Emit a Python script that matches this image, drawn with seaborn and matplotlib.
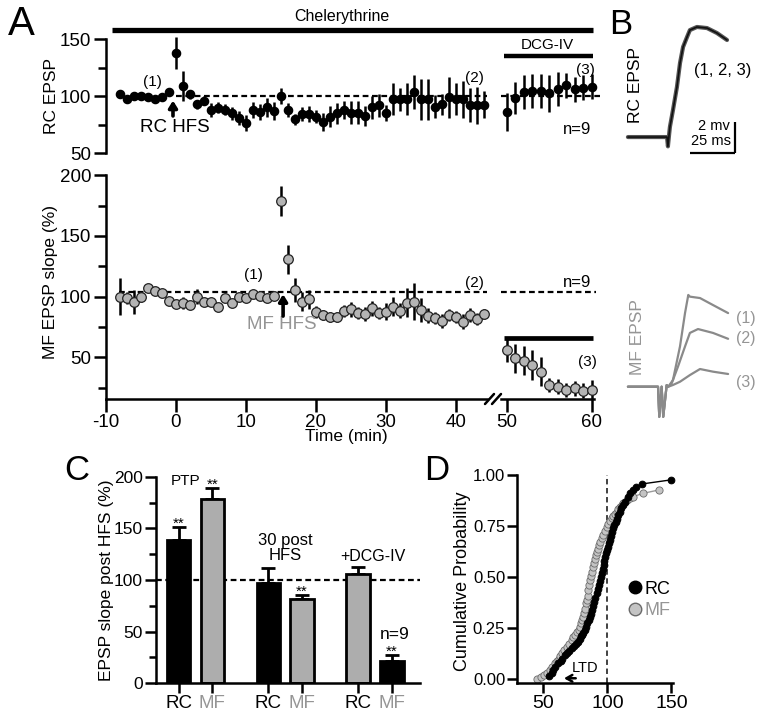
import numpy as np
import pandas as pd
import seaborn as sns
import matplotlib.pyplot as plt
from matplotlib.lines import Line2D

# ---------------- data ----------------
time_pre = list(range(-8, 45))
time_post = list(range(50, 61))

rc_pre = [102, 97, 100, 100, 99, 97, 99, 103.5, 137.6, 109, 101.5, 92.6, 96, 87.6, 89.7, 88,
          84.7, 81, 76, 87.6, 86, 90, 86.8, 100, 87.6, 79.4, 84, 84, 82, 77.4, 82, 84.7, 87.6,
          85.3, 85.3, 82.6, 90, 92, 85.3, 97, 97, 97.6, 103.5, 97, 97, 90.6, 92.6, 99, 97.6, 97,
          91.8, 91.8, 92.4]
rc_pre_err = [2, 2, 2, 2, 2, 2, 2, 2, 14, 13, 4, 4, 4, 6, 5, 5, 6, 6, 7, 7, 7, 8, 8, 7, 6, 5,
              6, 7, 6, 8, 9, 9, 8, 10, 10, 9, 10, 10, 7, 14, 10, 14, 15, 18, 18, 10, 9, 18, 14,
              16, 15, 16, 12]
rc_post = [86, 98.5, 103.5, 104.4, 104.4, 102.4, 106, 109.4, 106, 107.4, 108.2]
rc_post_err = [17, 14, 15, 15, 15, 16, 15, 11, 11, 11, 11]

mf_pre = [100, 98.6, 95.9, 99.5, 106.9, 105, 103.3, 96.7, 94, 95, 93, 100, 95.9, 95.9, 91.8,
          99.2, 95, 100, 99.2, 102, 100.8, 98.6, 100.5, 178.8, 130.8, 105.5, 95.9, 97.8, 87.6,
          84.9, 83, 83.5, 88.5, 89.6, 86.3, 85.7, 90.4, 86.3, 87.6, 91.8, 88.5, 95, 95.9, 89,
          84.3, 82.1, 79.9, 84.9, 83.5, 79.4, 84.9, 81.6, 85.7]
mf_pre_err = [15, 5, 10, 4, 3, 3, 3, 3, 3, 5, 3, 6, 3, 3, 3, 3, 3, 3, 3, 3, 3, 3, 3, 12, 12,
              10, 8, 8, 5, 4, 4, 4, 5, 6, 5, 6, 6, 5, 7, 8, 6, 12, 15, 10, 6, 5, 6, 5, 5, 6,
              6, 5, 4]
mf_post = [56, 49.2, 47.3, 43.7, 38.2, 27.2, 25.8, 23.1, 24.5, 22.5, 23.1]
mf_post_err = [10, 12, 12, 12, 12, 6, 6, 6, 6, 6, 8]

# panel B traces (ms, mV)
rc_trace_t = [0, 21.7, 22.2, 22.8, 23.3, 25.0, 27.2, 28.9, 30.6, 32.8, 34.4, 38.3, 43.9, 49.4, 55.0]
rc_trace_v = [0, 0, -0.6, 0.1, 0.65, 1.74, 3.23, 4.77, 5.81, 6.45, 6.9, 7.1, 7.03, 6.71, 6.26]
mf1_t = [0, 16.7, 17.4, 18.7, 19.6, 21.5, 22.4, 25.0, 28.9, 31.7, 33.5, 34.4, 40.0, 47.2, 55.6]
mf1_v = [0, 0, -1.94, 0, -1.94, 0.1, 0, 0.43, 2.6, 4.76, 5.92, 5.81, 5.72, 5.27, 4.75]
mf2_t = [0, 16.7, 17.4, 18.7, 19.6, 21.5, 22.4, 24.3, 27.8, 31.7, 34.4, 38.9, 47.2, 55.6]
mf2_v = [0, 0, -1.94, 0, -1.94, 0.1, 0, 0.22, 1.3, 2.6, 3.47, 3.72, 3.47, 3.09]
mf3_t = [0, 16.7, 17.4, 18.7, 19.6, 21.5, 22.4, 25.0, 28.9, 34.4, 40.0, 47.2, 55.6]
mf3_v = [0, 0, -1.94, 0, -1.94, 0.1, 0, 0.11, 0.32, 0.75, 1.14, 0.97, 0.82]

# panel C
bar_groups = ['PTP', '30 post HFS', '+DCG-IV']
bar_pathways = ['RC', 'MF']
bar_values = [138.7, 178.0, 96.8, 81.6, 105.8, 21.6]
bar_errors = [12.9, 11.4, 14.8, 3.9, 6.8, 5.8]

# panel D
rc_cdf_x = [54.7, 56.5, 57.8, 59.5, 61.7, 63.5, 65.0, 67.0, 68.5, 70.0, 72.2, 74.0, 75.5, 77.3,
            78.5, 79.5, 80.5, 81.3, 82.3, 83.2, 84.4, 85.3, 86.2, 87.0, 87.8, 88.6, 89.5, 90.5,
            91.7, 92.5, 93.3, 94.1, 94.9, 95.6, 96.3, 97.0, 97.6, 98.3, 99.0, 99.8, 100.6,
            101.3, 102.1, 103.0, 103.8, 104.7, 105.5, 106.5, 107.5, 108.6, 109.8, 111.0, 112.4,
            113.8, 115.8, 118.0, 120.3, 122.5, 126.9, 149.5]
rc_cdf_y = [0.016, 0.030, 0.045, 0.060, 0.078, 0.090, 0.100, 0.119, 0.130, 0.140, 0.152, 0.165,
            0.175, 0.184, 0.195, 0.210, 0.218, 0.225, 0.240, 0.257, 0.274, 0.290, 0.305, 0.320,
            0.339, 0.360, 0.380, 0.400, 0.421, 0.440, 0.460, 0.480, 0.500, 0.519, 0.540, 0.560,
            0.580, 0.600, 0.617, 0.635, 0.650, 0.667, 0.682, 0.700, 0.720, 0.739, 0.755, 0.770,
            0.787, 0.804, 0.820, 0.837, 0.853, 0.869, 0.890, 0.910, 0.927, 0.940, 0.956, 0.976]
mf_cdf_x = [44.8, 48.0, 50.8, 53.0, 55.2, 57.0, 59.1, 60.5, 62.0, 63.2, 64.4, 66.3, 68.3, 70.3,
            72.2, 73.5, 74.8, 76.0, 77.5, 78.7, 79.6, 80.5, 81.3, 82.0, 82.7, 83.4, 84.0, 84.6,
            85.2, 85.8, 86.5, 87.2, 87.9, 88.6, 89.3, 90.2, 91.0, 91.7, 92.6, 93.4, 94.3, 95.5,
            96.9, 98.2, 99.5, 100.8, 102.1, 103.4, 104.7, 106.0, 107.3, 108.6, 110.0, 111.2,
            112.5, 113.8, 115.2, 117.5, 120.3, 127.7, 140.4]
mf_cdf_y = [0.000, 0.010, 0.020, 0.032, 0.045, 0.060, 0.078, 0.090, 0.100, 0.115, 0.127, 0.143,
            0.160, 0.175, 0.190, 0.205, 0.217, 0.230, 0.243, 0.257, 0.275, 0.290, 0.306, 0.325,
            0.345, 0.372, 0.390, 0.410, 0.437, 0.460, 0.486, 0.505, 0.525, 0.551, 0.570, 0.590,
            0.607, 0.625, 0.640, 0.657, 0.673, 0.690, 0.706, 0.726, 0.747, 0.760, 0.775, 0.788,
            0.800, 0.810, 0.820, 0.832, 0.843, 0.853, 0.862, 0.870, 0.878, 0.886, 0.894, 0.910,
            0.927]

# ---------------- style ----------------
sns.set_theme(style='ticks')
plt.rcParams['font.family'] = ['Liberation Sans', 'DejaVu Sans']
plt.rcParams.update({'axes.edgecolor': 'black', 'xtick.color': 'black', 'ytick.color': 'black',
                     'text.color': 'black', 'axes.labelcolor': 'black', 'axes.linewidth': 1.8})
GRAY_TXT = '#959595'
MF_FACE = '#b4b4b4'

W, H = 760, 720
fig = plt.figure(figsize=(7.6, 7.2), dpi=100)


def pax(l, t, r, b):
    ax = fig.add_axes([l / W, 1 - b / H, (r - l) / W, (b - t) / H])
    ax.patch.set_visible(False)
    return ax


def ftext(x, y, s, **kw):
    kw.setdefault('ha', 'center')
    kw.setdefault('va', 'center')
    fig.text(x / W, 1 - y / H, s, **kw)


def ticks(ax, size=13.5, length=9):
    ax.tick_params(which='major', direction='out', length=length, width=1.8, labelsize=size, pad=1.5)
    ax.tick_params(which='minor', direction='out', length=length * 0.65, width=1.8)


def series(ax, t, v, e, face, edge, s):
    ax.errorbar(t, v, yerr=e, fmt='none', ecolor='black', elinewidth=1.8, capsize=0, zorder=2)
    sns.scatterplot(x=t, y=v, ax=ax, color=face, edgecolor=edge, s=s, linewidth=0.9,
                    zorder=3, legend=False, clip_on=False)


ARROW = dict(arrowstyle='-|>,head_width=0.25,head_length=0.4', lw=2.6, color='black',
             shrinkA=0, shrinkB=0, mutation_scale=10)

# ---------------- panel A ----------------
XL = (-10, 44.43)
XR = (49.3, 60.24)
a1 = pax(106, 16.2, 487, 155.3)
a2 = pax(501, 16.2, 594, 155.3)
b1 = pax(106, 175.3, 487, 399)
b2 = pax(501, 175.3, 594, 399)

for ax in (a1, a2):
    ax.set_ylim(48, 170)
for ax in (b1, b2):
    ax.set_ylim(15.7, 200)
for ax in (a1, b1):
    ax.set_xlim(*XL)
for ax in (a2, b2):
    ax.set_xlim(*XR)

series(a1, time_pre, rc_pre, rc_pre_err, 'black', 'black', 36)
series(a2, time_post, rc_post, rc_post_err, 'black', 'black', 36)
series(b1, time_pre, mf_pre, mf_pre_err, MF_FACE, '#222222', 48)
series(b2, time_post, mf_post, mf_post_err, MF_FACE, '#222222', 48)

for ax in (a1, a2, b1, b2):
    for sp in ('top', 'right'):
        ax.spines[sp].set_visible(False)
    ticks(ax)

a1.spines['bottom'].set_visible(False)
a1.spines['left'].set_bounds(50, 150)
a1.set_xticks([])
a1.set_yticks([50, 100, 150])
a1.set_yticks([75, 125], minor=True)
for sp in ('left', 'bottom'):
    a2.spines[sp].set_visible(False)
a2.set_xticks([])
a2.set_yticks([])

b1.set_yticks([50, 100, 150, 200])
b1.set_yticks([25, 75, 125, 175], minor=True)
b1.set_xticks([-10, 0, 10, 20, 30, 40])
b1.set_xticklabels(['-10', '0', '10', '20', '30', '40'])
b2.spines['left'].set_visible(False)
b2.set_yticks([])
b2.set_xticks([50, 60])

dash = dict(ls=(0, (2.6, 1.6)), color='black', lw=1.6, zorder=1, clip_on=False)
a1.plot([0, XL[1]], [100, 100], **dash)
a2.plot([XR[0], 60.95], [100, 100], **dash)
b1.plot([-8.1, XL[1]], [104, 104], **dash)
b2.plot([XR[0], 60.5], [104, 104], **dash)

a1.plot([-9.14, 59.57], [157.9, 157.9], color='black', lw=3.8, solid_capstyle='butt', clip_on=False)
ftext(342, 16, 'Chelerythrine', fontsize=11.5)
a2.plot([49.65, 60.12], [135.1, 135.1], color='black', lw=3.2, solid_capstyle='butt', clip_on=False)
a2.text(54.8, 144.7, 'DCG-IV', ha='center', va='center', fontsize=11)
b2.plot([49.65, 60.12], [66.2, 66.2], color='black', lw=3.4, solid_capstyle='butt', clip_on=False)

a1.text(-3.4, 112.3, '(1)', ha='center', va='center', fontsize=11)
a1.text(42.7, 115.8, '(2)', ha='center', va='center', fontsize=11)
a2.text(59.2, 122.8, '(3)', ha='center', va='center', fontsize=11)
a2.text(58.2, 70.2, 'n=9', ha='center', va='center', fontsize=12)
a1.text(-0.14, 72, 'RC HFS', ha='center', va='center', fontsize=13.5)
a1.annotate('', xy=(-0.43, 96), xytext=(-0.43, 82.5), arrowprops=ARROW)
b1.text(11, 117.9, '(1)', ha='center', va='center', fontsize=11)
b1.text(42.7, 111.3, '(2)', ha='center', va='center', fontsize=11)
b2.text(58.2, 111.3, 'n=9', ha='center', va='center', fontsize=12)
b2.text(59.5, 46.2, '(3)', ha='center', va='center', fontsize=11)
b1.text(15.1, 76.7, 'MF HFS', ha='center', va='center', fontsize=13.5, color=GRAY_TXT)
b1.annotate('', xy=(15.3, 102), xytext=(15.3, 84), arrowprops=ARROW)

ftext(51, 96, 'RC EPSP', rotation=90, fontsize=12.5)
ftext(51, 282, 'MF EPSP slope (%)', rotation=90, fontsize=12.5)
ftext(346, 437, 'Time (min)', fontsize=12.5)

for x0 in (485, 492):
    fig.add_artist(Line2D([x0 / W, (x0 + 9) / W], [1 - 404 / H, 1 - 394 / H], color='black', lw=1.8))

# ---------------- panel B ----------------
tb = pax(620, 0, 760, 160)
tb.set_xlim(-4.4, 73.3)
tb.set_ylim(-1.48, 8.84)
tb.axis('off')
for lw, c in ((3.0, '#555555'), (1.2, '#111111')):
    sns.lineplot(x=rc_trace_t, y=rc_trace_v, ax=tb, color=c, lw=lw, sort=False, estimator=None)
tb.plot([34.4, 59.4], [-1.03, -1.03], color='black', lw=1.6, solid_capstyle='butt')
tb.plot([59.4, 59.4], [-1.03, 0.97], color='black', lw=1.6, solid_capstyle='butt')
ftext(730, 126.5, '2 mv', ha='right', fontsize=10.5)
ftext(731, 141, '25 ms', ha='right', fontsize=10.5)
ftext(723, 70, '(1, 2, 3)', fontsize=12)
ftext(635, 85, 'RC EPSP', rotation=90, fontsize=12.5)

mb = pax(620, 270, 760, 440)
mb.set_xlim(-4.4, 73.3)
mb.set_ylim(-3.44, 7.53)
mb.axis('off')
for tt, vv in ((mf1_t, mf1_v), (mf2_t, mf2_v), (mf3_t, mf3_v)):
    sns.lineplot(x=tt, y=vv, ax=mb, color='#8a8a8a', lw=1.6, sort=False, estimator=None)
ftext(746, 318, '(1)', fontsize=11.5, color=GRAY_TXT)
ftext(746, 338, '(2)', fontsize=11.5, color=GRAY_TXT)
ftext(746, 382, '(3)', fontsize=11.5, color=GRAY_TXT)
ftext(637, 337, 'MF EPSP', rotation=90, fontsize=12.5, color=GRAY_TXT)

# ---------------- panel C ----------------
cx = pax(156, 476.7, 420, 683.3)
df_c = pd.DataFrame({'group': np.repeat(bar_groups, 2), 'pathway': bar_pathways * 3,
                     'value': bar_values})
sns.barplot(data=df_c, x='group', y='value', hue='pathway', hue_order=bar_pathways,
            order=bar_groups, palette={'RC': 'black', 'MF': '#adadad'}, width=0.75, gap=0.3,
            edgecolor='black', linewidth=2, errorbar=None, legend=False, ax=cx, zorder=2)
bars = sorted(cx.patches, key=lambda p: p.get_x())
fills = ['black', '#adadad', 'black', '#adadad', '#adadad', 'black']
for p, f in zip(bars, fills):
    p.set_facecolor(f)
centers = [p.get_x() + p.get_width() / 2 for p in bars]
cx.errorbar(centers, bar_values, yerr=[np.zeros(len(bar_values)), bar_errors], fmt='none',
            ecolor='black', elinewidth=2, capsize=5, capthick=2, zorder=1.5)
cx.set_xlim(-0.44, 2.5)
cx.set_ylim(0, 200)
cx.axhline(100, ls=(0, (2.6, 1.6)), color='black', lw=1.6, zorder=0.5)
for sp in ('top', 'right'):
    cx.spines[sp].set_visible(False)
cx.set_xlabel('')
cx.set_ylabel('')
cx.set_yticks([0, 50, 100, 150, 200])
cx.set_yticks([25, 75, 125, 175], minor=True)
cx.set_xticks(centers)
cx.set_xticklabels(['RC', 'MF'] * 3)
ticks(cx, size=12.5, length=8)
cx.tick_params(axis='x', labelsize=13.5, length=7)
for lab, c in zip(cx.get_xticklabels(), ['black', GRAY_TXT] * 3):
    lab.set_color(c)
cx.text(-0.115, 196, 'PTP', ha='center', va='center', fontsize=11)
for i in (0, 1, 3, 5):
    cx.text(centers[i], bar_values[i] + bar_errors[i] - 1, '**', ha='center', va='baseline',
            fontsize=11)
cx.text(1.0, 131, '30 post\nHFS', ha='center', va='center', fontsize=12, linespacing=0.95)
cx.text(1.98, 123.2, '+DCG-IV', ha='center', va='center', fontsize=11.5)
cx.text(2.22, 46.8, 'n=9', ha='center', va='center', fontsize=12.5)
ftext(107, 580, 'EPSP slope post HFS (%)', rotation=90, fontsize=12.5)

# ---------------- panel D ----------------
dx = pax(517, 475, 672.7, 683.3)
dx.axvline(100, ls=(0, (3, 2)), color='#333333', lw=1.3, zorder=0.5)
sns.lineplot(x=mf_cdf_x, y=mf_cdf_y, ax=dx, color='#9a9a9a', lw=1.0, sort=False, estimator=None,
             marker='o', markersize=5.2, markerfacecolor='#c4c4c4', markeredgecolor='#6a6a6a',
             markeredgewidth=0.6, clip_on=False)
sns.lineplot(x=rc_cdf_x, y=rc_cdf_y, ax=dx, color='black', lw=1.0, sort=False, estimator=None,
             marker='o', markersize=4.8, markerfacecolor='black', markeredgecolor='black',
             clip_on=False)
dx.set_xlim(29.5, 151)
dx.set_ylim(-0.0196, 1.0)
for sp in ('top', 'right'):
    dx.spines[sp].set_visible(False)
dx.set_xticks([50, 100, 150])
dx.set_yticks([0, 0.25, 0.5, 0.75, 1.0])
dx.set_yticklabels(['0.00', '0.25', '0.50', '0.75', '1.00'])
ticks(dx, size=12, length=7)
dx.tick_params(axis='x', labelsize=14)
handles = [Line2D([], [], marker='o', ls='', markersize=9, markerfacecolor='black',
                  markeredgecolor='black'),
           Line2D([], [], marker='o', ls='', markersize=9, markerfacecolor='#c4c4c4',
                  markeredgecolor='#6a6a6a')]
leg = dx.legend(handles, ['RC', 'MF'], loc='center left', bbox_to_anchor=(0.66, 0.40),
                frameon=False, handletextpad=0.05, handlelength=0.9, fontsize=13,
                labelspacing=0.25, borderaxespad=0)
leg.get_texts()[1].set_color(GRAY_TXT)
dx.text(82.6, 0.055, 'LTD', ha='center', va='center', fontsize=10.5)
dx.annotate('', xy=(64.0, 0.005), xytext=(77.5, 0.005),
            arrowprops=dict(arrowstyle='->,head_width=0.2,head_length=0.35', lw=1.8, color='black'))
ftext(463, 581, 'Cumulative Probability', rotation=90, fontsize=13)

# ---------------- panel letters ----------------
ftext(21, 24, 'A', fontsize=29)
ftext(621, 25, 'B', fontsize=25)
ftext(77, 470, 'C', fontsize=25)
ftext(437, 470, 'D', fontsize=25)

fig.savefig('out.png', dpi=100)
